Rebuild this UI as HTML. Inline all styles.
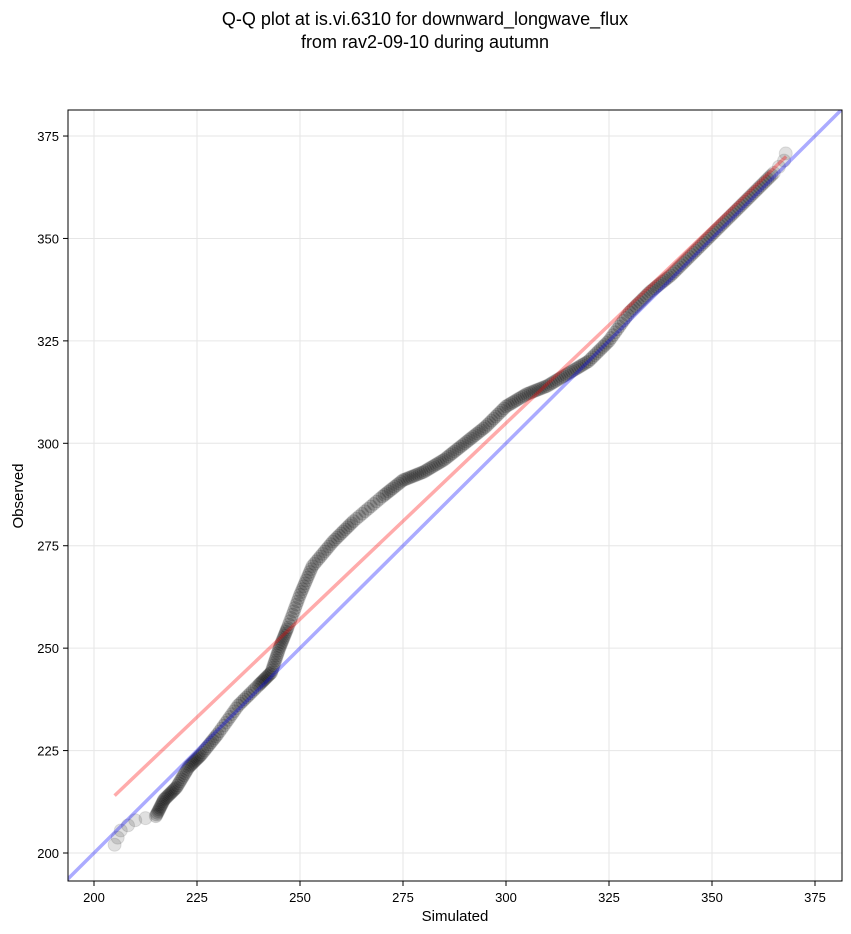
<!DOCTYPE html>
<html><head><meta charset="utf-8"><style>
body{margin:0;background:#fff;}
svg{display:block;font-family:"Liberation Sans","DejaVu Sans",sans-serif;}
</style></head><body>
<svg id="s" width="851" height="934" xmlns="http://www.w3.org/2000/svg">
<rect width="851" height="934" fill="#fff"/>
<text x="425" y="25" font-size="18" text-anchor="middle">Q-Q plot at is.vi.6310 for downward_longwave_flux</text>
<text x="425" y="48" font-size="18" text-anchor="middle">from rav2-09-10 during autumn</text>
<defs><clipPath id="c"><rect x="68" y="110" width="774" height="771"/></clipPath></defs>
<g id="grid"></g>
<g id="pts" clip-path="url(#c)"></g>
<g clip-path="url(#c)">
<line id="blue" stroke="#0000ff" stroke-opacity="0.33" stroke-width="3.5"/>
<line id="red" stroke="#ff0000" stroke-opacity="0.33" stroke-width="3.5"/>
</g>
<rect x="68" y="110" width="774" height="771" fill="none" stroke="#000" stroke-width="1"/>
<g id="ticks" font-size="13"></g>
<text x="455" y="921" font-size="15" text-anchor="middle">Simulated</text>
<text x="23" y="496" font-size="15" text-anchor="middle" transform="rotate(-90 23 496)">Observed</text>
</svg>
<script>
var NS="http://www.w3.org/2000/svg";
function X(v){return 94+(v-200)*4.12;}
function Y(v){return 853-(v-200)*4.097;}
function el(t,a,p){var e=document.createElementNS(NS,t);for(var k in a)e.setAttribute(k,a[k]);document.getElementById(p).appendChild(e);return e;}
for(var v=200;v<=375;v+=25){
 el("line",{x1:X(v),x2:X(v),y1:110,y2:881,stroke:"#e6e6e6","stroke-width":1},"grid");
 el("line",{y1:Y(v),y2:Y(v),x1:68,x2:842,stroke:"#e6e6e6","stroke-width":1},"grid");
 el("line",{x1:X(v),x2:X(v),y1:881,y2:886,stroke:"#000"},"ticks");
 el("line",{y1:Y(v),y2:Y(v),x1:63,x2:68,stroke:"#000"},"ticks");
 var t=el("text",{x:X(v),y:902,"text-anchor":"middle"},"ticks");t.textContent=v;
 var t2=el("text",{x:59,y:Y(v)+5,"text-anchor":"end"},"ticks");t2.textContent=v;
}
var k=[[205,202],[206.5,205.5],[210,208],[215,209],[217,213],[220,216],[223,221],[226,224],[230,229],[235,236],[240,241],[243,244],[245,250],[247,255],[250,263],[253,270],[258,276],[263,281],[270,287],[275,291],[280,293],[285,296],[290,300],[295,304],[300,309],[305,312],[310,314],[315,317],[320,320],[325,325],[330,332],[335,337],[340,341],[345,346],[350,351],[355,356],[360,361],[365,366],[367.5,369],[368.3,372.5]];
var n=10;
for(var i=0;i<k.length-1;i++){
 var a=k[i],b=k[i+1];
 var end=(i<3||i>=k.length-3);
 var m=end?2:n;
 for(var j=0;j<m;j++){var f=j/m;
  el("circle",{cx:X(a[0]+(b[0]-a[0])*f),cy:Y(a[1]+(b[1]-a[1])*f),r:6.5,fill:"#000","fill-opacity":end?0.12:0.18,stroke:"#000","stroke-opacity":0.1},"pts");
 }
}
var bl=document.getElementById("blue");
bl.setAttribute("x1",X(190));bl.setAttribute("y1",Y(190));bl.setAttribute("x2",X(385));bl.setAttribute("y2",Y(385));
var r=document.getElementById("red");
r.setAttribute("x1",X(205));r.setAttribute("y1",Y(214));r.setAttribute("x2",X(368));r.setAttribute("y2",Y(370));
</script>
</body></html>
